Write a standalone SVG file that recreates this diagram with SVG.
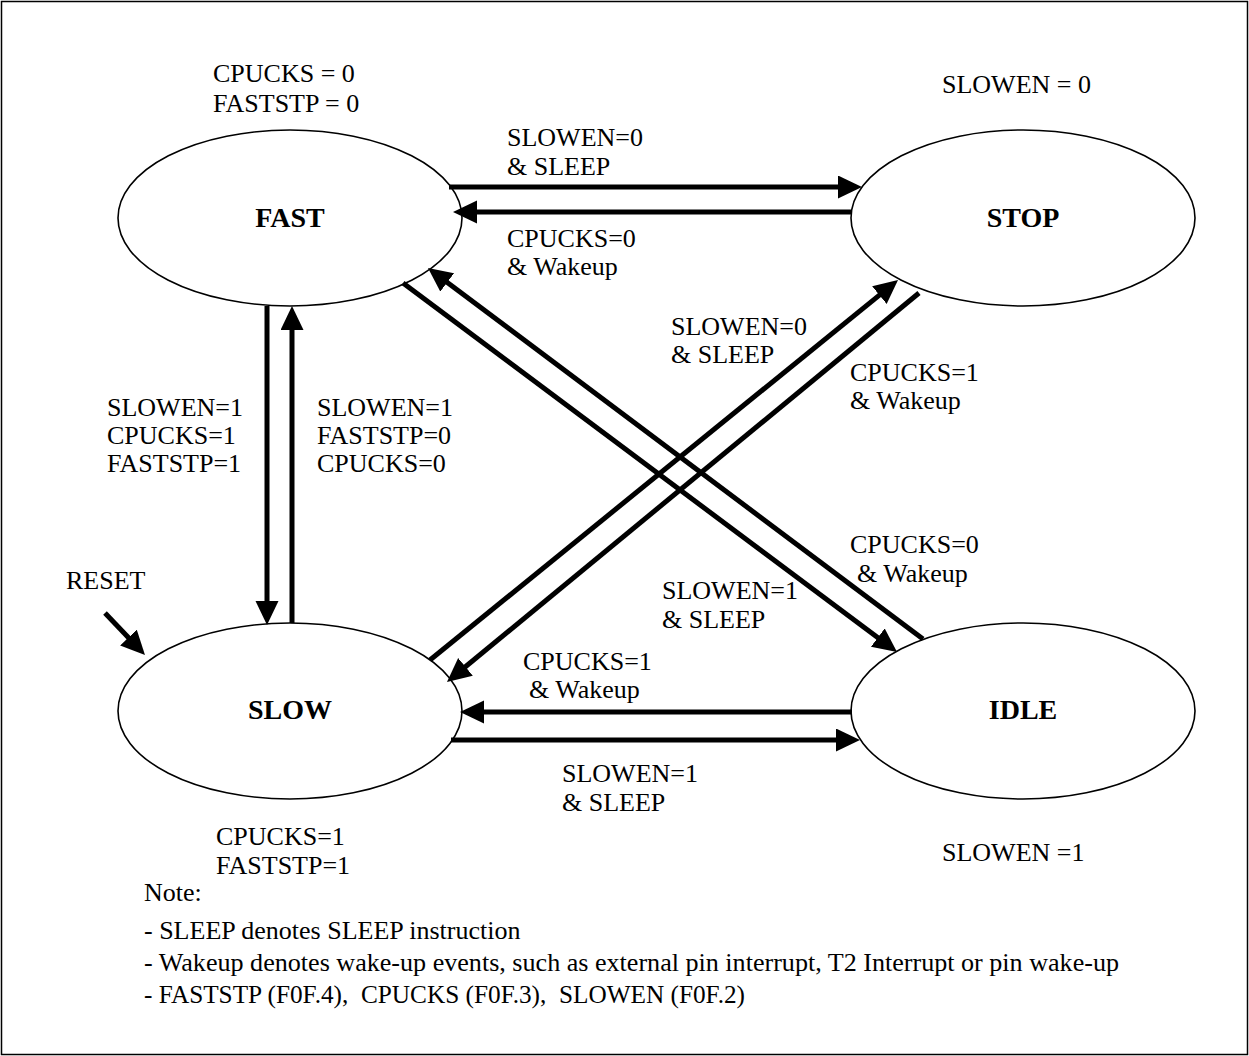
<svg xmlns="http://www.w3.org/2000/svg" width="1249" height="1056" viewBox="0 0 1249 1056">
<style>
text{font-family:"Liberation Serif","Times New Roman",serif;font-size:26px;fill:#000}
.st{font-weight:bold;font-size:28px;text-anchor:middle}
.nt{font-size:26px}
.node ellipse{fill:#fff;stroke:#000;stroke-width:1.6}
.conn line{stroke:#000;stroke-width:5;fill:none}
</style>
<defs>
<marker id="ah" markerUnits="userSpaceOnUse" markerWidth="24" markerHeight="24" viewBox="0 0 24 24" refX="4" refY="11.5" orient="auto">
<path d="M0,0 L24,11.5 L0,23 z" fill="#000"/>
</marker>
</defs>
<rect x="1.5" y="1.5" width="1246" height="1053" fill="#fff" stroke="#000" stroke-width="1.5"/>

<g id="fast" class="node">
<ellipse cx="290" cy="218" rx="172" ry="88"/>
<text class="st" x="290" y="227">FAST</text>
</g>
<g id="stop" class="node">
<ellipse cx="1023" cy="218" rx="172" ry="88"/>
<text class="st" x="1023" y="227">STOP</text>
</g>
<g id="slow" class="node">
<ellipse cx="290" cy="711" rx="172" ry="88"/>
<text class="st" x="290" y="719">SLOW</text>
</g>
<g id="idle" class="node">
<ellipse cx="1023" cy="711" rx="172" ry="88"/>
<text class="st" x="1023" y="719">IDLE</text>
</g>

<g id="connectors" class="conn">
<line x1="449" y1="187" x2="842" y2="187" marker-end="url(#ah)"/>
<line x1="852" y1="212" x2="473" y2="212" marker-end="url(#ah)"/>
<line x1="267" y1="306" x2="267" y2="605" marker-end="url(#ah)"/>
<line x1="292" y1="623" x2="292" y2="326" marker-end="url(#ah)"/>
<line x1="105" y1="613" x2="131.2" y2="640.5" marker-end="url(#ah)"/>
<line x1="403" y1="283" x2="881" y2="640" marker-end="url(#ah)"/>
<line x1="923" y1="639" x2="444" y2="280" marker-end="url(#ah)"/>
<line x1="430" y1="660" x2="882.5" y2="292.6" marker-end="url(#ah)"/>
<line x1="919" y1="293" x2="462.4" y2="669.3" marker-end="url(#ah)"/>
<line x1="852" y1="712" x2="480" y2="712" marker-end="url(#ah)"/>
<line x1="451" y1="740" x2="840" y2="740" marker-end="url(#ah)"/>
</g>

<g id="labels">
<text x="213" y="82">CPUCKS = 0</text>
<text x="213" y="112">FASTSTP = 0</text>
<text x="942" y="93">SLOWEN = 0</text>
<text x="216" y="845">CPUCKS=1</text>
<text x="216" y="874">FASTSTP=1</text>
<text x="942" y="861">SLOWEN =1</text>

<text x="507" y="146">SLOWEN=0</text>
<text x="507" y="175">&amp; SLEEP</text>
<text x="507" y="247">CPUCKS=0</text>
<text x="507" y="275">&amp; Wakeup</text>

<text x="107" y="416">SLOWEN=1</text>
<text x="107" y="444">CPUCKS=1</text>
<text x="107" y="472">FASTSTP=1</text>
<text x="317" y="416">SLOWEN=1</text>
<text x="317" y="444">FASTSTP=0</text>
<text x="317" y="472">CPUCKS=0</text>

<text x="671" y="335">SLOWEN=0</text>
<text x="671" y="363">&amp; SLEEP</text>
<text x="850" y="381">CPUCKS=1</text>
<text x="850" y="409">&amp; Wakeup</text>

<text x="850" y="553">CPUCKS=0</text>
<text x="857" y="582">&amp; Wakeup</text>
<text x="662" y="599">SLOWEN=1</text>
<text x="662" y="628">&amp; SLEEP</text>
<text x="523" y="670">CPUCKS=1</text>
<text x="529" y="698">&amp; Wakeup</text>
<text x="562" y="782">SLOWEN=1</text>
<text x="562" y="811">&amp; SLEEP</text>

<text x="66" y="589">RESET</text>

<text class="nt" x="144" y="901">Note:</text>
<text class="nt" x="144" y="939">- SLEEP denotes SLEEP instruction</text>
<text class="nt" x="144" y="971" textLength="975" lengthAdjust="spacingAndGlyphs">- Wakeup denotes wake-up events, such as external pin interrupt, T2 Interrupt or pin wake-up</text>
<text class="nt" x="144" y="1003" xml:space="preserve" textLength="601" lengthAdjust="spacingAndGlyphs">- FASTSTP (F0F.4),  CPUCKS (F0F.3),  SLOWEN (F0F.2)</text>
</g>
</svg>
